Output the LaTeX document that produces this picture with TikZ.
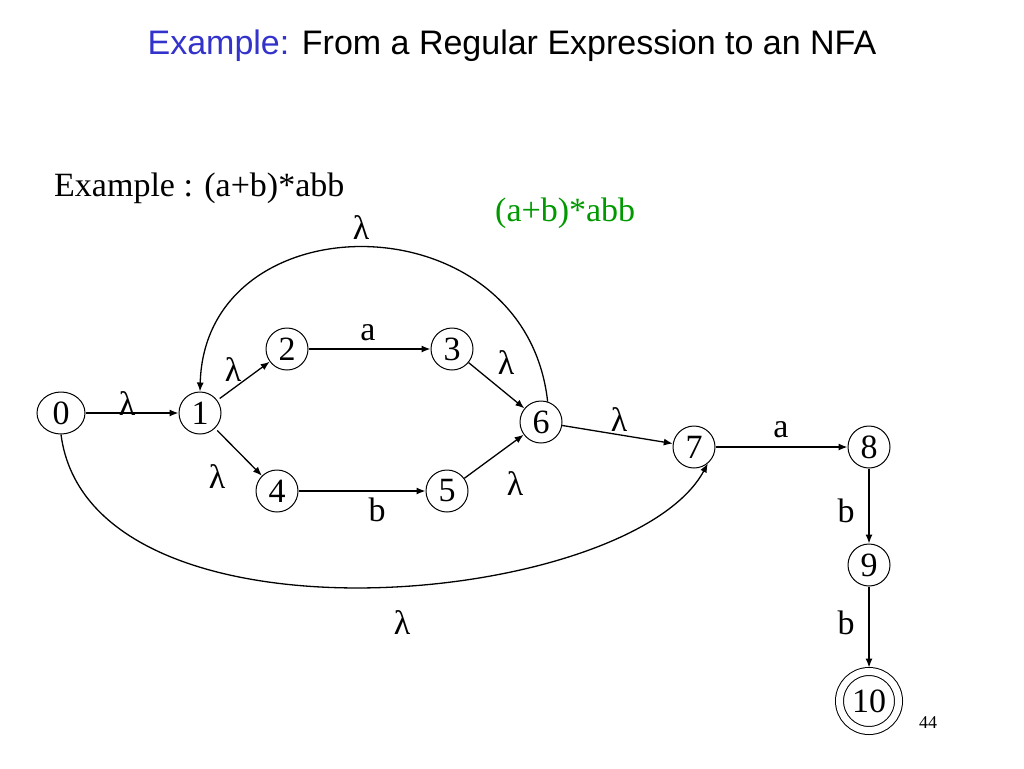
\documentclass[tikz,border=0pt]{standalone}
\usepackage{fontspec}
\setmainfont{Liberation Serif}
\newfontfamily\slidesans{Liberation Sans}
\usetikzlibrary{arrows.meta,shapes.geometric}

\definecolor{titleblue}{RGB}{51,51,204}
\definecolor{regexgreen}{RGB}{0,153,0}

\tikzset{
  nfastate/.style={draw,circle,line width=1pt,minimum size=42pt,inner sep=0pt,font=\fontsize{34}{40}\selectfont},
  nfafinal/.style={nfastate,double,double distance=7pt,minimum size=59pt,outer sep=4pt},
  trans/.style={line width=1.3pt,-{Latex[length=9pt,width=7pt]}},
  lbl/.style={inner sep=0pt,font=\fontsize{34}{40}\selectfont},
}

\begin{document}
\begin{tikzpicture}[x=1pt,y=-1pt]
\useasboundingbox (0,0) rectangle (1024,768);

\node[anchor=base,inner sep=0pt,font=\slidesans\fontsize{34}{40}\selectfont] (title) at (512,55)
  {{\color{titleblue}Example:} From a Regular Expression to an NFA};
\node[lbl,anchor=base west] (example) at (54,196) {Example : (a+b)*abb};
\node[lbl,anchor=base west,text=regexgreen] (regex) at (495,221) {(a+b)*abb};

% states
\node[nfastate,ellipse,minimum width=48pt,minimum height=42pt] (n0) at (61,413) {0};
\node[nfastate] (n1) at (200,413) {1};
\node[nfastate] (n2) at (287,349) {2};
\node[nfastate] (n3) at (452,349) {3};
\node[nfastate] (n4) at (277,491) {4};
\node[nfastate] (n5) at (447,491) {5};
\node[nfastate] (n6) at (541,422) {6};
\node[nfastate] (n7) at (694,447) {7};
\node[nfastate] (n8) at (869,447) {8};
\node[nfastate] (n9) at (869,565) {9};
\node[nfafinal] (n10) at (869,701) {10};

% transitions
\draw[trans] (n0) -- (n1);
\draw[trans,shorten <=3pt] (n1) -- (n2);
\draw[trans,shorten <=3pt] (n1) -- (n4);
\draw[trans] (n2) -- (n3);
\draw[trans] (n4) -- (n5);
\draw[trans] (n3) -- (n6);
\draw[trans] (n5) -- (n6);
\draw[trans] (n6) -- (n7);
\draw[trans] (n7) -- (n8);
\draw[trans] (n8) -- (n9);
\draw[trans] (n9) -- (n10);
\draw[trans] (n6.72) .. controls (525,198) and (205,198) .. (n1.north);
\draw[trans] (n0.south) .. controls (90,658) and (630,608) .. (n7.-50);

% labels
\node[lbl] (l01) at (127,404) {λ};
\node[lbl] (l12) at (233,370) {λ};
\node[lbl] (l14) at (217,477) {λ};
\node[lbl] (l23) at (368,333) {a};
\node[lbl] (l45) at (377,510) {b};
\node[lbl] (l36) at (506,363) {λ};
\node[lbl] (l56) at (515,484) {λ};
\node[lbl] (l67) at (619,420) {λ};
\node[lbl] (l78) at (781,430) {a};
\node[lbl] (l89) at (846,511) {b};
\node[lbl] (l910) at (846,623) {b};
\node[lbl] (lback) at (361,228) {λ};
\node[lbl] (lskip) at (402,623) {λ};

\node[anchor=base west,inner sep=0pt,font=\fontsize{18}{20}\selectfont] (page) at (919,728) {44};
\end{tikzpicture}
\end{document}
